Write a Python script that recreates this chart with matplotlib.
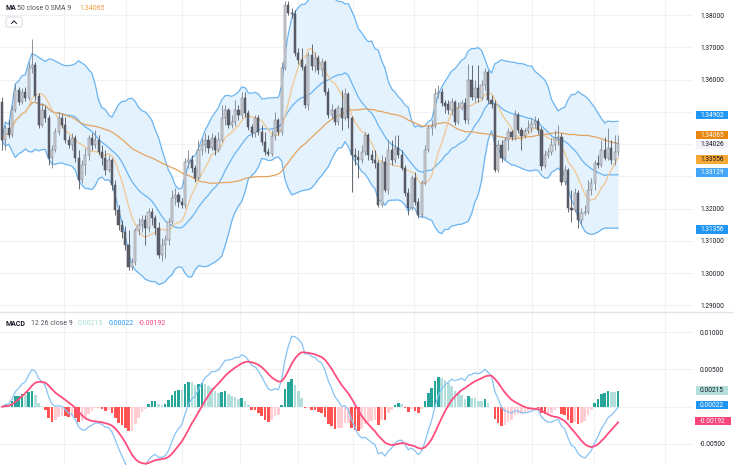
import numpy as np
import pandas as pd
import matplotlib
matplotlib.use("Agg")
import matplotlib.pyplot as plt
from matplotlib.patches import Rectangle, FancyBboxPatch
from matplotlib.lines import Line2D
from matplotlib.transforms import blended_transform_factory

plt.rcParams['font.family'] = ['Roboto', 'DejaVu Sans']

# ---- candle data (one value per bar) ----
open_ = [
    1.35308, 1.34130, 1.34502, 1.34285, 1.35060, 1.35680, 1.35308, 1.35618, 1.35432, 1.36362,
    1.36455, 1.35494, 1.34595, 1.35060, 1.34812, 1.33572, 1.33820, 1.34378, 1.34812, 1.34595,
    1.34130, 1.33975, 1.34192, 1.33572, 1.32890, 1.33355, 1.33665, 1.34192, 1.33975, 1.34130,
    1.33758, 1.33572, 1.33200, 1.33510, 1.32735, 1.31960, 1.31495, 1.31278, 1.30875, 1.30193,
    1.30348, 1.31340, 1.31495, 1.31650, 1.31402, 1.31898, 1.31712, 1.31402, 1.30565, 1.30875,
    1.31030, 1.31588, 1.32332, 1.32425, 1.32208, 1.32115, 1.33448, 1.33510, 1.33262, 1.32952,
    1.33820, 1.33975, 1.34130, 1.33882, 1.34192, 1.33820, 1.34130, 1.34812, 1.35060, 1.34595,
    1.34688, 1.35060, 1.34905, 1.35432, 1.34967, 1.34533, 1.34347, 1.34812, 1.34378, 1.34068,
    1.33758, 1.33696, 1.34254, 1.34750, 1.34378, 1.36362, 1.38315, 1.38067, 1.38036, 1.36827,
    1.36610, 1.36393, 1.35215, 1.36765, 1.36424, 1.36672, 1.36300, 1.36548, 1.35618, 1.34905,
    1.35060, 1.34688, 1.35122, 1.34812, 1.35556, 1.34812, 1.33665, 1.33603, 1.33510, 1.33758,
    1.34285, 1.33665, 1.33510, 1.33417, 1.32115, 1.33448, 1.32580, 1.33820, 1.33510, 1.33882,
    1.33665, 1.33262, 1.32487, 1.32022, 1.32952, 1.32208, 1.31805, 1.32797, 1.33820, 1.34502,
    1.34564, 1.35556, 1.35618, 1.35277, 1.35246, 1.35060, 1.35308, 1.34688, 1.35122, 1.35277,
    1.34750, 1.35990, 1.35463, 1.35742, 1.35432, 1.35835, 1.36238, 1.35370, 1.35246, 1.33200,
    1.33975, 1.33572, 1.34130, 1.34378, 1.34223, 1.34905, 1.34440, 1.34254, 1.34409, 1.34502,
    1.34626, 1.34719, 1.34440, 1.33324, 1.33665, 1.33758, 1.33975, 1.34192, 1.34223, 1.32828,
    1.33200, 1.32022, 1.31960, 1.32487, 1.31650, 1.31867, 1.31898, 1.32580, 1.32797, 1.33417,
    1.33355, 1.33820, 1.33572, 1.33882, 1.33510, 1.33758,
]
high = [
    1.35463, 1.34595, 1.34750, 1.35215, 1.35866, 1.35773, 1.35742, 1.35773, 1.36548, 1.37261,
    1.36548, 1.35587, 1.35277, 1.35184, 1.34905, 1.33975, 1.34502, 1.34998, 1.34936, 1.34843,
    1.34285, 1.34347, 1.34285, 1.33820, 1.33510, 1.33882, 1.34285, 1.34347, 1.34440, 1.34285,
    1.33975, 1.33820, 1.33665, 1.33572, 1.32890, 1.32115, 1.31650, 1.31464, 1.31340, 1.30472,
    1.31402, 1.31712, 1.31805, 1.31805, 1.32022, 1.32022, 1.31805, 1.31588, 1.31092, 1.31185,
    1.31712, 1.32580, 1.32642, 1.32518, 1.32332, 1.33572, 1.33820, 1.33665, 1.33355, 1.34130,
    1.34192, 1.34347, 1.34285, 1.34347, 1.34285, 1.34378, 1.35215, 1.35215, 1.35122, 1.34905,
    1.35370, 1.35215, 1.35618, 1.35618, 1.35060, 1.34626, 1.34905, 1.34905, 1.34595, 1.34378,
    1.33882, 1.34440, 1.34998, 1.34812, 1.36548, 1.38440, 1.38440, 1.38222, 1.38160, 1.36982,
    1.36982, 1.36486, 1.36858, 1.37106, 1.36858, 1.36765, 1.36672, 1.36610, 1.35742, 1.35246,
    1.35122, 1.35215, 1.35680, 1.35742, 1.35618, 1.34874, 1.33882, 1.33820, 1.33975, 1.34378,
    1.34347, 1.33820, 1.33820, 1.33510, 1.33665, 1.33603, 1.34130, 1.34130, 1.34285, 1.34285,
    1.33820, 1.33355, 1.32642, 1.33045, 1.33138, 1.32332, 1.32890, 1.33975, 1.34595, 1.34750,
    1.35742, 1.35835, 1.35742, 1.35370, 1.35370, 1.35432, 1.35370, 1.35308, 1.35370, 1.35432,
    1.36486, 1.36455, 1.35990, 1.36455, 1.35990, 1.36362, 1.36300, 1.35525, 1.35370, 1.34130,
    1.34130, 1.34223, 1.34502, 1.34440, 1.35060, 1.34998, 1.34533, 1.34502, 1.34750, 1.34812,
    1.34874, 1.34812, 1.34533, 1.33820, 1.33882, 1.34192, 1.34440, 1.34595, 1.34347, 1.33355,
    1.33262, 1.32580, 1.32642, 1.32580, 1.32022, 1.32115, 1.32890, 1.32952, 1.33510, 1.33665,
    1.34130, 1.34223, 1.34502, 1.34130, 1.34285, 1.34285,
]
low = [
    1.33820, 1.33820, 1.34192, 1.34223, 1.34998, 1.35215, 1.35246, 1.35339, 1.35370, 1.36207,
    1.35370, 1.34502, 1.34533, 1.34688, 1.33355, 1.33262, 1.33758, 1.34285, 1.34502, 1.34037,
    1.33882, 1.33820, 1.33448, 1.32611, 1.32797, 1.33045, 1.33510, 1.33820, 1.33882, 1.33665,
    1.33355, 1.33045, 1.33138, 1.32580, 1.31805, 1.31340, 1.31092, 1.30720, 1.30100, 1.30100,
    1.30255, 1.31185, 1.31278, 1.30875, 1.31278, 1.31495, 1.31185, 1.30472, 1.30379, 1.30472,
    1.30875, 1.31526, 1.32115, 1.32053, 1.32022, 1.32022, 1.33262, 1.33138, 1.32828, 1.32890,
    1.33665, 1.33758, 1.33727, 1.33820, 1.33665, 1.33758, 1.34068, 1.34595, 1.34502, 1.34502,
    1.34564, 1.34750, 1.34812, 1.34843, 1.34440, 1.34223, 1.34223, 1.34285, 1.33975, 1.33665,
    1.33634, 1.33634, 1.34130, 1.34285, 1.34285, 1.36300, 1.38005, 1.37912, 1.36734, 1.36486,
    1.36300, 1.35122, 1.35060, 1.36300, 1.36238, 1.36176, 1.36114, 1.35525, 1.34812, 1.34812,
    1.34595, 1.34595, 1.34440, 1.34750, 1.34502, 1.32518, 1.33355, 1.32952, 1.33417, 1.33665,
    1.33510, 1.33417, 1.33262, 1.32053, 1.32053, 1.32518, 1.32456, 1.33355, 1.33417, 1.33572,
    1.33200, 1.32394, 1.31805, 1.31960, 1.32115, 1.31712, 1.31743, 1.32735, 1.33758, 1.34285,
    1.34502, 1.35432, 1.35184, 1.34967, 1.34936, 1.34905, 1.34595, 1.34626, 1.35060, 1.34657,
    1.34626, 1.35370, 1.35308, 1.35308, 1.35370, 1.35680, 1.35277, 1.35122, 1.33138, 1.33138,
    1.33448, 1.33510, 1.33820, 1.34130, 1.34130, 1.34347, 1.33820, 1.34192, 1.34347, 1.34378,
    1.34502, 1.34316, 1.33200, 1.33262, 1.33572, 1.33665, 1.33820, 1.33975, 1.32735, 1.32735,
    1.31898, 1.31588, 1.31898, 1.31402, 1.31495, 1.31805, 1.31836, 1.32425, 1.32580, 1.33262,
    1.33293, 1.33510, 1.33510, 1.33386, 1.33355, 1.33634,
]
close = [
    1.34130, 1.34502, 1.34285, 1.35060, 1.35680, 1.35308, 1.35618, 1.35432, 1.36362, 1.36455,
    1.35494, 1.34595, 1.35060, 1.34812, 1.33572, 1.33820, 1.34378, 1.34812, 1.34595, 1.34130,
    1.33975, 1.34192, 1.33572, 1.32890, 1.33355, 1.33665, 1.34192, 1.33975, 1.34130, 1.33758,
    1.33572, 1.33200, 1.33510, 1.32735, 1.31960, 1.31495, 1.31278, 1.30875, 1.30193, 1.30348,
    1.31340, 1.31495, 1.31650, 1.31402, 1.31898, 1.31712, 1.31402, 1.30565, 1.30875, 1.31030,
    1.31588, 1.32332, 1.32425, 1.32208, 1.32115, 1.33448, 1.33510, 1.33262, 1.32952, 1.33820,
    1.33975, 1.34130, 1.33882, 1.34192, 1.33820, 1.34130, 1.34812, 1.35060, 1.34595, 1.34688,
    1.35060, 1.34905, 1.35432, 1.34967, 1.34533, 1.34347, 1.34812, 1.34378, 1.34068, 1.33758,
    1.33696, 1.34254, 1.34750, 1.34378, 1.36362, 1.38315, 1.38067, 1.38036, 1.36827, 1.36610,
    1.36393, 1.35215, 1.36765, 1.36424, 1.36672, 1.36300, 1.36548, 1.35618, 1.34905, 1.35060,
    1.34688, 1.35122, 1.34812, 1.35556, 1.34812, 1.33665, 1.33603, 1.33510, 1.33758, 1.34285,
    1.33665, 1.33510, 1.33417, 1.32115, 1.33448, 1.32580, 1.33820, 1.33510, 1.33882, 1.33665,
    1.33262, 1.32487, 1.32022, 1.32952, 1.32208, 1.31805, 1.32797, 1.33820, 1.34502, 1.34564,
    1.35556, 1.35618, 1.35277, 1.35184, 1.35060, 1.35308, 1.34688, 1.35122, 1.35277, 1.34750,
    1.35990, 1.35463, 1.35742, 1.35432, 1.35835, 1.36238, 1.35370, 1.35246, 1.33200, 1.33975,
    1.33572, 1.34130, 1.34378, 1.34223, 1.34905, 1.34440, 1.34254, 1.34409, 1.34502, 1.34626,
    1.34719, 1.34440, 1.33324, 1.33665, 1.33758, 1.33975, 1.34192, 1.34223, 1.32828, 1.33200,
    1.32022, 1.31960, 1.32487, 1.31650, 1.31867, 1.31898, 1.32580, 1.32797, 1.33417, 1.33355,
    1.33820, 1.33572, 1.33882, 1.33510, 1.33758, 1.34026,
]

# vertical date grid (bar index) and axis ticks
date_grid = [18.6, 37.2, 54.1, 71.5, 88.9, 105.4, 123.7, 142.6, 159.2, 177.9, 199.1]
price_ticks = [1.29, 1.30, 1.31, 1.32, 1.33, 1.34, 1.35, 1.36, 1.37, 1.38]
macd_ticks = [-0.005, 0.0, 0.005, 0.01]
# tick labels that sit under a value tag on the scale
price_hidden = [1.33, 1.34, 1.35]
macd_hidden = [0.0]

# last values printed on the scales
bb_last = [1.34902, 1.33129, 1.31356]      # upper, basis, lower
ma50_last = 1.34065
sma9_last = 1.33556
last_price = 1.34026
macd_last = [0.00215, 0.00022, -0.00192]   # histogram, macd, signal

# ---- indicators ----
c = pd.Series(close)
ma50 = c.rolling(50, min_periods=1).mean()
sma9 = c.rolling(9, min_periods=1).mean()
basis = c.rolling(20, min_periods=1).mean()
dev = c.rolling(20, min_periods=1).std(ddof=0)
upper = basis + 2 * dev
lower = basis - 2 * dev
macd = c.ewm(span=12, adjust=False).mean() - c.ewm(span=26, adjust=False).mean()
signal = macd.ewm(span=9, adjust=False).mean()
hist = macd - signal

W, H = 733, 465
fig = plt.figure(figsize=(W / 100, H / 100), dpi=100)
PANE_W = 693
MAIN_H, SUB_H = 311, 153
ax = fig.add_axes([0, (H - MAIN_H) / H, PANE_W / W, MAIN_H / H])
ax2 = fig.add_axes([0, 0, PANE_W / W, SUB_H / H])

x = np.arange(len(close))
o = np.array(open_); cl = np.array(close)
hi = np.array(high); lo = np.array(low)
up = cl >= o

grid_c = '#eff1f5'
for a in (ax, ax2):
    for s in a.spines.values():
        s.set_visible(False)
    a.set_xlim(-0.6, 207.5)
    a.set_xticks(date_grid)
    a.tick_params(axis='x', length=0, labelbottom=False)
    a.yaxis.tick_right()
    a.tick_params(axis='y', length=0, pad=5, labelsize=4.7, colors='#131722')
    a.grid(True, color=grid_c, lw=0.8)
    a.set_axisbelow(True)

# price pane
ax.fill_between(x, lower, upper, color='#e3f2fd', lw=0, zorder=1)
for band in (upper, basis, lower):
    ax.plot(x, band, color='#6ab4f1', lw=0.9, zorder=2)
ax.plot(x, ma50, color='#e3a462', lw=0.9, zorder=2.5)
ax.plot(x, sma9, color='#f1c690', lw=0.9, zorder=2.5)

ax.vlines(x, lo, hi, colors=np.where(up, '#7d808a', '#4f525b'), lw=0.6, zorder=3)
body_bot = np.minimum(o, cl)
body_h = np.maximum(np.abs(cl - o), 0.00015)
ax.bar(x, body_h, bottom=body_bot, width=0.64,
       color=np.where(up, '#d4d6db', '#5d606b'),
       edgecolor=np.where(up, '#6f727c', '#4a4d55'), linewidth=0.35, zorder=4)

ax.set_ylim(1.28829, 1.38470)
ax.set_yticks(price_ticks)
ax.set_yticklabels(['' if any(abs(v - h) < 1e-9 for h in price_hidden) else f'{v:.5f}'
                    for v in price_ticks])

# MACD pane
prev = hist.shift(1)
bar_cols = []
for h, p in zip(hist, prev):
    if h >= 0:
        bar_cols.append('#26a69a' if (np.isnan(p) or h > p) else '#b2dfdb')
    else:
        bar_cols.append('#ff5252' if (np.isnan(p) or h < p) else '#ffcdd2')
ax2.bar(x, hist, width=0.78, color=bar_cols, zorder=2)
ax2.plot(x, macd, color='#86c3f5', lw=0.9, zorder=3)
ax2.plot(x, signal, color='#ff4d7e', lw=1.3, zorder=3)
ax2.set_ylim(-0.00782, 0.01270)
ax2.set_yticks(macd_ticks)
ax2.set_yticklabels(['' if any(abs(v - h) < 1e-12 for h in macd_hidden) else f'{v:.5f}'
                     for v in macd_ticks])


def tag(a, pane_h, value, text, face, fg, shift_px=0, width_px=32, left_px=696):
    y0, y1 = a.get_ylim()
    per_px = (y1 - y0) / pane_h
    yc = value - shift_px * per_px
    h = 8.5 * per_px
    tr = blended_transform_factory(a.transAxes, a.transData)
    x0 = left_px / PANE_W
    w = width_px / PANE_W
    a.add_patch(Rectangle((x0, yc - h / 2), w, h, transform=tr, facecolor=face,
                          edgecolor='none', clip_on=False, zorder=5))
    a.text(x0 + w / 2, yc, text, transform=tr, ha='center', va='center',
           fontsize=4.7, color=fg, clip_on=False, zorder=6)


tag(ax, MAIN_H, bb_last[0], f'{bb_last[0]:.5f}', '#2196f3', 'white')
tag(ax, MAIN_H, ma50_last, f'{ma50_last:.5f}', '#e8860f', 'white', shift_px=-7)
tag(ax, MAIN_H, last_price, f'{last_price:.5f}', '#f2f3f6', '#131722', shift_px=1.6)
tag(ax, MAIN_H, sma9_last, f'{sma9_last:.5f}', '#f6a935', '#131722', shift_px=1)
tag(ax, MAIN_H, bb_last[1], f'{bb_last[1]:.5f}', '#42a5f5', 'white')
tag(ax, MAIN_H, bb_last[2], f'{bb_last[2]:.5f}', '#2196f3', 'white')

tag(ax2, SUB_H, macd_last[0], f'{macd_last[0]:.5f}', '#b2dfdb', '#131722')
tag(ax2, SUB_H, macd_last[1], f'{macd_last[1]:.5f}', '#2196f3', 'white')
tag(ax2, SUB_H, macd_last[2], f'{macd_last[2]:.5f}', '#f6467a', 'white',
    width_px=36, left_px=695)


def ftext(xp, yp, s, color, size=5.0, weight='normal'):
    fig.text(xp / W, 1 - yp / H, s, ha='left', va='center', fontsize=size,
             color=color, fontweight=weight)


# legends
ftext(5, 8, 'MA', '#131722', weight='semibold')
ftext(17.3, 8, '50 close 0 SMA 9', '#50535e')
ftext(79, 8, f'{ma50_last:.5f}', '#ef9a3f')
ftext(5, 323.5, 'MACD', '#131722', weight='semibold')
ftext(30.7, 323.5, '12 26 close 9', '#50535e')
ftext(78, 323.5, f'{macd_last[0]:.5f}', '#a6dcd4')
ftext(109, 323.5, f'{macd_last[1]:.5f}', '#2196f3')
ftext(139, 323.5, f'{macd_last[2]:.5f}', '#f6467a')

# collapse button
fig.add_artist(FancyBboxPatch((6 / W, 1 - 27 / H), 16 / W, 10 / H,
                              boxstyle='round,pad=0,rounding_size=0.003',
                              transform=fig.transFigure, facecolor='white',
                              edgecolor='#d1d4dc', lw=0.6))
fig.add_artist(Line2D([11.5 / W, 14 / W, 16.5 / W],
                      [1 - 23.5 / H, 1 - 20.8 / H, 1 - 23.5 / H],
                      transform=fig.transFigure, color='#131722', lw=0.7))

# pane separator
fig.add_artist(Line2D([0, 1], [1 - 311.5 / H] * 2, transform=fig.transFigure,
                      color='#e0e3eb', lw=1.0))

fig.savefig('out.png', dpi=100)
